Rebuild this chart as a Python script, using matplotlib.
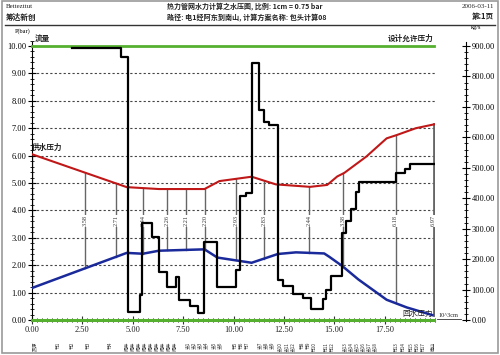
import matplotlib
matplotlib.use("Agg")
import matplotlib.pyplot as plt
import numpy as np
from matplotlib.ticker import MultipleLocator, FormatStrFormatter
from matplotlib.patches import Rectangle
from matplotlib.lines import Line2D

plt.rcParams['font.family'] = ['Liberation Serif', 'Noto Sans CJK SC']
CJK = ['Noto Sans CJK SC', 'DejaVu Sans']

# ---- data ----
supply_x = [0, 4.7, 6.3, 8.56, 9.3, 10.9, 12.1, 13.8, 14.65, 15.15, 15.5, 16.6, 17.6, 18.1, 19.05, 19.95]
supply_p = [6.05, 4.85, 4.78, 4.78, 5.07, 5.23, 4.95, 4.86, 4.93, 5.24, 5.37, 5.97, 6.63, 6.75, 7.0, 7.14]

return_x = [0, 4.7, 5.5, 6.3, 8.56, 9.2, 10.9, 12.2, 13.1, 14.5, 14.75, 15.4, 16.2, 17.6, 18.6, 19.87]
return_p = [1.17, 2.45, 2.42, 2.53, 2.58, 2.28, 2.09, 2.41, 2.47, 2.43, 2.31, 1.97, 1.48, 0.74, 0.46, 0.18]

flow_x = [2.0, 4.44, 4.77, 5.35, 5.48, 5.97, 6.29, 6.70, 7.16, 7.29, 7.82, 8.24, 8.56, 9.17,
          10.13, 10.3, 10.6, 10.93, 11.29, 11.53, 11.75, 12.2, 12.44, 12.94, 13.43, 13.85,
          14.42, 14.6, 14.84, 15.4, 15.6, 15.85, 16.1, 16.24, 18.05, 18.5, 18.75, 19.95]
flow_v = [893, 863, 27, 82, 318, 274, 159, 107, 142, 66, 46, 22, 257, 107,
          164, 407, 417, 844, 690, 650, 640, 131, 112, 84, 71, 35,
          68, 99, 145, 286, 324, 366, 420, 454, 482, 495, 511, 511]

diff_x = [0, 2.62, 4.16, 5.5, 6.7, 7.63, 8.58, 10.13, 11.53, 13.77, 15.45, 18.05, 19.93]
diff_labels = ["", "3.58", "2.71", "2.44", "2.26", "2.21", "2.20", "2.93", "2.83", "2.44", "3.38", "6.18", "6.97"]

design_p = 10.0
node_x = [0.15, 1.3, 2.0, 2.8, 3.9, 4.7, 5.0, 5.3, 5.6, 5.9, 6.2, 6.5, 6.8, 7.1, 7.7, 8.0, 8.3, 8.6, 9.0, 9.3,
          10.1, 10.4, 10.7, 11.3, 11.6, 11.9, 12.3, 12.6, 12.9, 13.4, 13.7, 14.0, 14.6, 14.9,
          15.5, 15.8, 16.1, 16.4, 16.7, 17.0, 18.1, 18.4, 18.8, 19.1, 19.4, 19.9]
node_names = ["热源", "节1", "节2", "节3", "节4", "阀井", "阀井", "阀井", "阀井", "阀井", "阀井", "阀井",
              "阀井", "阀井", "支1", "支2", "支3", "支4", "支5", "支6", "节5", "节6", "节7", "支7",
              "支8", "支9", "支10", "支11", "支12", "节8", "节9", "节10", "节11", "节12", "支13",
              "支14", "支15", "支16", "支17", "支18", "节13", "节14", "节15", "节16", "节17", "南山"]

x_ticks = [0, 2.5, 5, 7.5, 10, 12.5, 15, 17.5]

# ---- figure ----
fig = plt.figure(figsize=(5, 3.55), dpi=100)
fig.add_artist(Rectangle((0.004, 0.006), 0.992, 0.99, transform=fig.transFigure,
                         fill=False, ec='#9a9a9a', lw=1.2))
fig.add_artist(Line2D([0.01, 0.99], [1 - 24.5/355, 1 - 24.5/355], transform=fig.transFigure,
                      color='#333333', lw=1.0))

# header texts
fig.text(6/500, 1 - 7/355, "Bettezttut", fontsize=5, va='center', ha='left', color='#222')
fig.text(6/500, 1 - 17/355, "筹达新创", fontsize=5.5, va='center', ha='left', family=CJK,
         color='#222', weight='bold')
fig.text(167/500, 1 - 6.5/355, "热力管网水力计算之水压图, 比例: 1cm = 0.75 bar", fontsize=5.0,
         va='center', ha='left', family=CJK, color='#222', weight='bold')
fig.text(167/500, 1 - 17/355, "路径: 电1经阿东到南山, 计算方案名称: 包头计算08", fontsize=5.1,
         va='center', ha='left', family=CJK, color='#222', weight='bold')
fig.text(494/500, 1 - 7/355, "2006-03-11", fontsize=5, va='center', ha='right', color='#222')
fig.text(494/500, 1 - 17/355, "第:1页", fontsize=5.5, va='center', ha='right', family=CJK,
         color='#222', weight='bold')

ax = fig.add_axes([0.064, 0.0946, 0.806, 0.7913])
ax.set_xlim(0, 20)
ax.set_ylim(-0.05, 10.2)
ax.patch.set_alpha(0)
for s in ['top', 'right']:
    ax.spines[s].set_visible(False)
ax.spines['bottom'].set_position(('data', 0))
ax.spines['bottom'].set_bounds(0, 19.95)
ax.spines['bottom'].set_color('#55b030')
ax.spines['bottom'].set_linewidth(2.2)
ax.spines['left'].set_bounds(-0.05, 10.15)
ax.spines['left'].set_linewidth(0.8)

ax.xaxis.set_minor_locator(MultipleLocator(0.25))
ax.set_xticks(x_ticks)
ax.xaxis.set_major_formatter(FormatStrFormatter('%.2f'))
ax.yaxis.set_major_locator(MultipleLocator(1))
ax.yaxis.set_minor_locator(MultipleLocator(0.2))
ax.yaxis.set_major_formatter(FormatStrFormatter('%.2f'))
ax.tick_params(axis='both', which='major', direction='inout', length=6, width=0.8, labelsize=6, pad=1)
ax.tick_params(axis='both', which='minor', direction='inout', length=3, width=0.6)
ax.tick_params(axis='x', colors='#333', labelcolor='#222')

# grid
ax.hlines(np.arange(1, 10), 0, 20, colors='#444', linestyles=(0, (2, 2)), lw=0.8, zorder=1)

# design pressure line
ax.plot([0, 19.95], [design_p, design_p], color='#55b030', lw=2, clip_on=False, zorder=5)

# difference lines
sup_i = np.interp(diff_x, supply_x, supply_p)
ret_i = np.interp(diff_x, return_x, return_p)
for i, (xv, lo, hi, lab) in enumerate(zip(diff_x, ret_i, sup_i, diff_labels)):
    lw = 2 if i == len(diff_x) - 1 else 1
    ax.plot([xv, xv], [lo, hi], color='#666', lw=lw, zorder=2)
    if lab:
        ax.text(xv, 3.62, lab, rotation=90, fontsize=4.5, ha='center', va='center', color='#333',
                bbox=dict(facecolor='white', edgecolor='none', pad=0.6), zorder=3)

# supply / return curves
ax.plot(supply_x, supply_p, color='#c01818', lw=1.5, zorder=4)
ax.plot(return_x, return_p, color='#1a2a9a', lw=1.8, zorder=4)

# flow on right axis
ax2 = ax.twinx()
ax2.set_ylim(-4.5, 918)
ax2.patch.set_alpha(0)
for s in ['top', 'left', 'bottom']:
    ax2.spines[s].set_visible(False)
ax2.spines['right'].set_position(('axes', 1.077))
ax2.spines['right'].set_bounds(-4.5, 913)
ax2.spines['right'].set_linewidth(0.8)
ax2.yaxis.set_major_locator(MultipleLocator(100))
ax2.yaxis.set_minor_locator(MultipleLocator(20))
ax2.yaxis.set_major_formatter(FormatStrFormatter('%.2f'))
ax2.tick_params(axis='y', which='major', direction='inout', length=6, width=0.8, labelsize=6, pad=1)
ax2.tick_params(axis='y', which='minor', direction='inout', length=3, width=0.6)
ax2.step(flow_x, flow_v, where='post', color='black', lw=1.6, zorder=6)

# annotations
ax.text(-0.05, 10.55, "P(bar)", fontsize=4.5, ha='right', va='center', clip_on=False)
ax2.text(1.09, 1.045, "kg/s", transform=ax2.transAxes, fontsize=4.5, ha='left', va='center')
ax.text(0.15, 10.12, "流量", fontsize=5.5, family=CJK, ha='left', va='bottom', color='#222', weight='bold')
ax.text(19.95, 10.12, "设计允许压力", fontsize=5.5, family=CJK, ha='right', va='bottom', color='#222',
        weight='bold')
ax.text(0.0, 6.12, "供水压力", fontsize=5.5, family=CJK, ha='left', va='bottom', color='#222', weight='bold')
ax.text(19.9, 0.08, "回水压力", fontsize=5.5, family=CJK, ha='right', va='bottom', color='#222', zorder=7)
ax.text(20.15, 0.18, "10^3cm", fontsize=4.5, ha='left', va='center', color='#222',
        clip_on=False)
ax.plot([20.1, 21.3], [0.05, 0.05], color='#333', lw=0.6, clip_on=False)

# node names below x axis
for xv, nm in zip(node_x, node_names):
    ax.text(xv, -0.8, nm, rotation=90, fontsize=3.4, family=CJK, ha='center', va='top', color='#333',
            clip_on=False)

fig.savefig("out.png", dpi=100)
